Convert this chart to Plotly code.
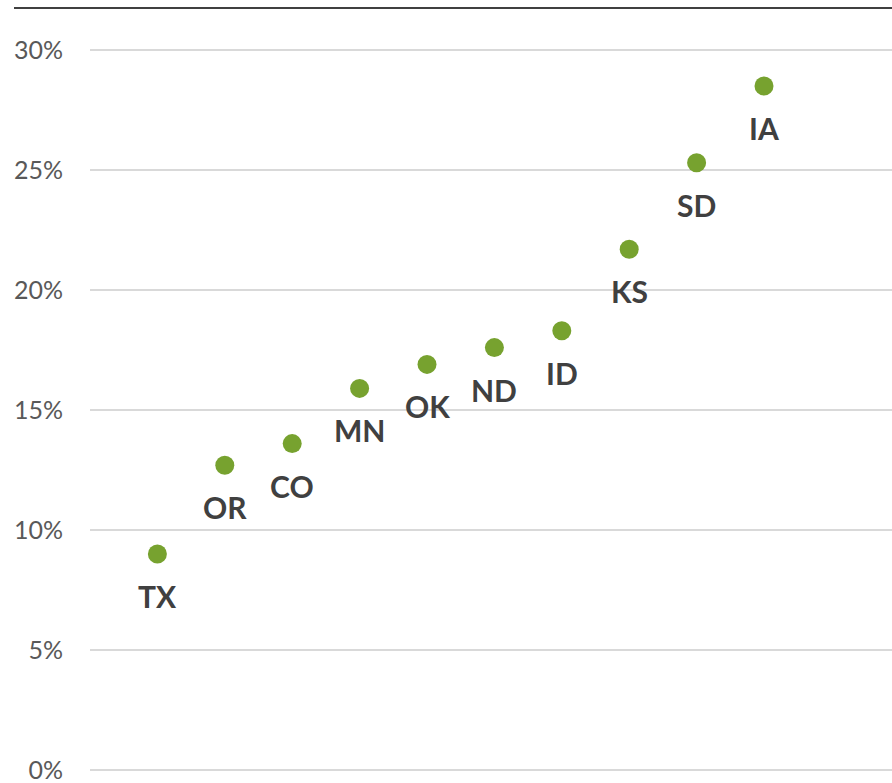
import plotly.graph_objects as go

states = ["TX", "OR", "CO", "MN", "OK", "ND", "ID", "KS", "SD", "IA"]
shares = [0.090, 0.127, 0.136, 0.159, 0.169, 0.176, 0.183, 0.217, 0.253, 0.285]
y_ticks = [0.0, 0.05, 0.10, 0.15, 0.20, 0.25, 0.30]

W, H = 892, 783
left, right, top, bottom = 90, 0, 8, 4

fig = go.Figure()
fig.add_trace(go.Scatter(
    x=list(range(len(states))),
    y=shares,
    mode="markers",
    marker=dict(size=19, color="#77a22f", line=dict(width=0)),
    hoverinfo="skip",
    showlegend=False,
))

# state abbreviations set beneath each dot
for i, (s, v) in enumerate(zip(states, shares)):
    fig.add_annotation(
        x=i, y=v, text=s, showarrow=False, yshift=-42,
        font=dict(family="Lato", size=30, color="#404040", weight="bold"),
    )

# dark rule along the top edge
fig.add_shape(
    type="line", xref="paper", yref="paper",
    x0=(14 - left) / (W - left - right), x1=1.0, y0=1.0, y1=1.0,
    line=dict(color="#404040", width=2),
)

fig.update_layout(
    width=W, height=H,
    margin=dict(l=left, r=right, t=top, b=bottom),
    paper_bgcolor="white", plot_bgcolor="white",
    xaxis=dict(
        range=[-1, -1 + (W - left - right) / 67.4],
        showgrid=False, zeroline=False, showticklabels=False, showline=False,
    ),
    yaxis=dict(
        range=[-(H - bottom - 770) / 2400, 0.30 + (50 - top) / 2400],
        tickvals=y_ticks, tickformat=".0%",
        showgrid=True, gridcolor="#d9d9d9", gridwidth=1.5,
        zeroline=False, showline=False, ticks="",
        ticklabelstandoff=26, ticklabeloverflow="allow",
        tickfont=dict(family="Lato", size=25, color="#595959"),
    ),
)

fig.write_html("out.html")
